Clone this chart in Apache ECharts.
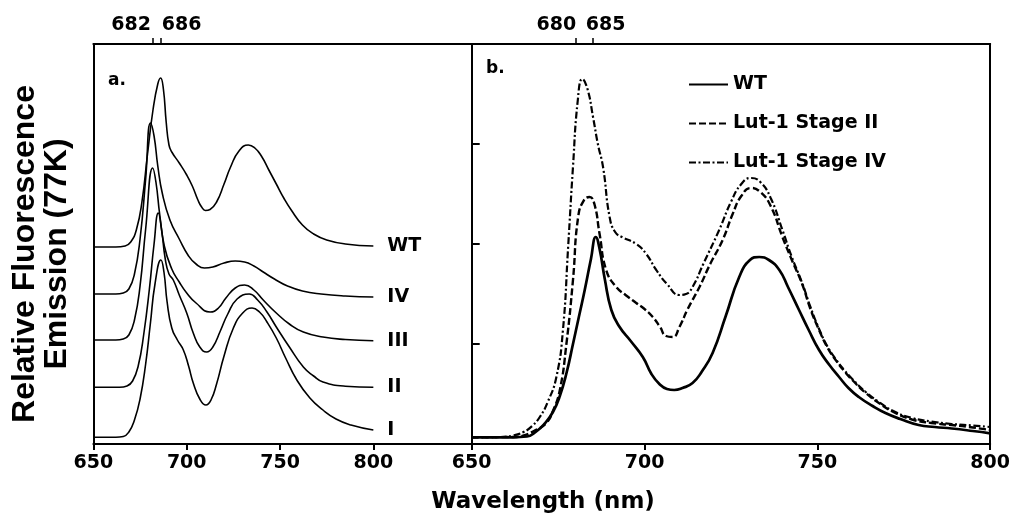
<!DOCTYPE html>
<html><head><meta charset="utf-8">
<script src="https://cdn.jsdelivr.net/npm/echarts@6/dist/echarts.min.js"></script>
<style>html,body{margin:0;padding:0;background:#fff}#c{width:1013px;height:517px}</style>
</head><body><div id="c"></div>
<script>
// ---- tick labels / categories ----
const bottomTicks = [650, 700, 750, 800];
const topTicksA = [682, 686];
const topTicksB = [680, 685];
const labelsA = ['WT', 'IV', 'III', 'II', 'I'];
const namesB = ['WT', 'Lut-1 Stage II', 'Lut-1 Stage IV'];

// ---- panel a (stacked, offset spectra) [wavelength nm, relative units] ----
const aWT = [[650,1.97],[662,1.97],[667,1.98],[670,2.02],[673,2.14],[676,2.42],[679,2.9],[682,3.35],[684.5,3.6],[686,3.66],[687.5,3.55],[689,3.22],[690.5,2.99],[692,2.92],[696,2.81],[700,2.69],[703,2.58],[706,2.44],[708,2.37],[710,2.335],[712.5,2.345],[716,2.42],[720,2.6],[723.5,2.77],[728,2.93],[733,2.99],[736.5,2.96],[740,2.88],[744,2.74],[748,2.6],[752,2.46],[756,2.34],[762,2.19],[768,2.1],[775,2.04],[785,2.0],[800,1.98]];
const aIV = [[650,1.5],[662,1.5],[666,1.51],[669,1.55],[672,1.7],[675,2.05],[678,2.65],[680.6,3.21],[682.5,3.08],[684.5,2.78],[687,2.5],[691,2.24],[696,2.05],[701,1.88],[705,1.8],[709.5,1.76],[714,1.77],[720,1.81],[726,1.83],[731,1.82],[736,1.78],[741,1.72],[747,1.65],[754,1.58],[762,1.53],[772,1.5],[785,1.48],[800,1.47]];
const aIII = [[650,1.04],[662,1.04],[666,1.05],[669,1.09],[672,1.24],[675,1.58],[678,2.15],[681.8,2.76],[683.5,2.62],[685.5,2.3],[688,1.98],[692,1.75],[696,1.62],[700,1.51],[705,1.41],[712.5,1.32],[717,1.36],[721,1.46],[726,1.56],[731,1.59],[736,1.54],[741,1.44],[748,1.31],[755,1.2],[762.5,1.12],[773,1.07],[785,1.045],[800,1.033]];
const aII = [[650,0.567],[664,0.567],[668,0.58],[671,0.63],[674,0.78],[677,1.1],[680,1.55],[682.5,2.0],[684.8,2.31],[686.5,2.15],[688.5,1.85],[690.5,1.7],[692.8,1.64],[696,1.49],[700,1.31],[703.5,1.11],[707,0.97],[710.7,0.92],[714,0.97],[718,1.13],[722,1.3],[727,1.45],[733.5,1.5],[738,1.44],[743,1.32],[748,1.17],[755,0.97],[762.5,0.77],[768,0.68],[773,0.62],[785,0.578],[800,0.567]];
const aI = [[650,0.067],[662,0.067],[666,0.075],[669,0.12],[672,0.24],[675,0.45],[678,0.8],[680.5,1.2],[683,1.6],[686.2,1.84],[687.8,1.72],[689.5,1.42],[692,1.16],[695,1.04],[698.2,0.94],[701,0.78],[703.5,0.61],[707,0.45],[710.3,0.39],[713,0.44],[716,0.6],[720,0.88],[725,1.16],[730,1.31],[735,1.36],[739,1.32],[743,1.22],[748,1.06],[753,0.86],[759,0.64],[766,0.46],[773,0.34],[780,0.25],[788,0.19],[800,0.14]];

// ---- panel b [wavelength nm, relative units] ----
const bWT = [[650,0.067],[662,0.067],[666,0.075],[668.5,0.12],[671,0.2],[673.5,0.32],[675.5,0.48],[677.5,0.72],[679.3,1.0],[681,1.27],[682.7,1.54],[684.5,1.85],[685.9,2.07],[687,1.95],[688.5,1.65],[690.4,1.34],[692.8,1.17],[696,1.03],[699.5,0.87],[702,0.7],[704.3,0.6],[706.5,0.55],[708.6,0.54],[711,0.56],[713.9,0.61],[716.5,0.72],[719.7,0.91],[723.5,1.28],[727.4,1.67],[730.5,1.84],[733.2,1.87],[736,1.84],[739,1.74],[741.5,1.57],[744.7,1.34],[747.5,1.14],[750.5,0.94],[753.5,0.79],[756.3,0.67],[759,0.56],[762,0.47],[766,0.38],[769.7,0.31],[774,0.25],[779.3,0.19],[784,0.17],[788.9,0.155],[795,0.13],[800,0.107]];
const bII = [[650,0.067],[662,0.07],[665,0.085],[668,0.13],[671.6,0.21],[673.5,0.33],[675.5,0.54],[677.4,1.0],[679.3,1.64],[680.8,2.27],[682.5,2.44],[684.1,2.47],[685.5,2.4],[687,2.1],[688.9,1.74],[691.8,1.57],[694.5,1.49],[697.6,1.41],[700,1.35],[702.4,1.27],[704.5,1.17],[706.2,1.08],[708.2,1.07],[710.1,1.17],[712.5,1.35],[715.9,1.57],[719,1.8],[722.6,2.04],[725.5,2.3],[728,2.48],[730.8,2.56],[733.5,2.52],[736.5,2.38],[739.9,2.07],[742.5,1.85],[745.6,1.6],[748,1.35],[750.5,1.14],[753,0.96],[755.3,0.84],[758,0.72],[760.1,0.64],[764,0.51],[767.8,0.41],[772,0.32],[777.4,0.245],[783,0.21],[788.9,0.19],[795,0.165],[800,0.14]];
const bIV = [[650,0.067],[658,0.07],[662,0.085],[665,0.12],[667.5,0.18],[669.7,0.27],[672,0.42],[674.5,0.67],[676.4,1.14],[677.9,1.97],[679.3,2.77],[680.7,3.44],[682,3.65],[683.5,3.55],[685.1,3.27],[686.5,3.0],[688,2.77],[689.9,2.27],[691.5,2.12],[693.5,2.07],[697.6,2.0],[700.5,1.9],[703.4,1.74],[706.5,1.6],[710.1,1.49],[712,1.5],[713.9,1.57],[717,1.8],[721.6,2.14],[725,2.42],[728,2.6],[730.8,2.66],[733.5,2.62],[736.5,2.46],[739.9,2.14],[742.5,1.88],[745.6,1.61],[748,1.37],[750.5,1.15],[753,0.97],[755.3,0.85],[758,0.73],[760.1,0.65],[764,0.52],[767.8,0.42],[772,0.33],[777.4,0.26],[783,0.225],[788.9,0.2],[795,0.185],[800,0.17]];

const seriesA = [aWT, aIV, aIII, aII, aI];
const seriesB = [bWT, bII, bIV];

const FONT = 'DejaVu Sans';
const BLK = '#000';
const axLine = {show: true, onZero: false, lineStyle: {color: BLK, width: 2}};

function bottomAxis(gi, max) {
  return {
    type: 'value', gridIndex: gi, position: 'bottom', min: 650, max: max,
    axisLine: axLine,
    axisTick: {show: true, customValues: bottomTicks, length: 6, lineStyle: {color: BLK, width: 2}},
    axisLabel: {show: true, customValues: bottomTicks, margin: 10, color: BLK, fontFamily: FONT, fontWeight: 'bold', fontSize: 19, showMinLabel: true, showMaxLabel: true},
    splitLine: {show: false}
  };
}
function topAxis(gi, max, ticks, padL, padR) {
  return {
    type: 'value', gridIndex: gi, position: 'top', min: 650, max: max,
    axisLine: axLine,
    axisTick: {show: true, customValues: ticks, length: 6, lineStyle: {color: BLK, width: 1.5}},
    axisLabel: {
      show: true, customValues: ticks, margin: 9,
      formatter: function (v) { return (v === ticks[0] ? '{l|' : '{r|') + v + '}'; },
      rich: {
        l: {padding: [0, padL, 0, 0], color: BLK, fontFamily: FONT, fontWeight: 'bold', fontSize: 19},
        r: {padding: [0, 0, 0, padR], color: BLK, fontFamily: FONT, fontWeight: 'bold', fontSize: 19}
      }
    },
    splitLine: {show: false}
  };
}

const chart = echarts.init(document.getElementById('c'), null, {renderer: 'canvas'});

const series = [];
seriesA.forEach(function (d, i) {
  series.push({
    type: 'line', name: 'a-' + labelsA[i], xAxisIndex: 0, yAxisIndex: 0, data: d,
    smooth: 0.5, symbol: 'none', silent: true,
    lineStyle: {color: BLK, width: 1.6},
    endLabel: {show: true, formatter: labelsA[i], distance: 14, color: BLK, fontFamily: FONT, fontWeight: 'bold', fontSize: 19}
  });
});
const styleB = [
  {color: BLK, width: 2.7, type: 'solid'},
  {color: BLK, width: 2.4, type: [7, 3]},
  {color: BLK, width: 2.2, type: [7, 2.5, 2, 2.5]}
];
seriesB.forEach(function (d, i) {
  series.push({
    type: 'line', name: namesB[i], xAxisIndex: 2, yAxisIndex: 2, data: d,
    smooth: 0.5, symbol: 'none', silent: true,
    lineStyle: styleB[i], itemStyle: {color: BLK}
  });
});

chart.setOption({
  animation: false,
  backgroundColor: '#fff',
  grid: [
    {left: 93.4, top: 44, width: 378.3, height: 400},
    {left: 471.7, top: 44, width: 520, height: 400}
  ],
  xAxis: [
    bottomAxis(0, 852.7),
    topAxis(0, 852.7, topTicksA, 44, 42),
    bottomAxis(1, 800),
    topAxis(1, 800, topTicksB, 38, 26)
  ],
  yAxis: [
    {type: 'value', gridIndex: 0, min: 0, max: 4, position: 'left', axisLine: axLine, axisTick: {show: false}, axisLabel: {show: false}, splitLine: {show: false}},
    {type: 'value', gridIndex: 0, min: 0, max: 4, position: 'right', axisLine: {show: false}, axisTick: {show: false}, axisLabel: {show: false}, splitLine: {show: false}},
    {type: 'value', gridIndex: 1, min: 0, max: 4, interval: 1, position: 'left', axisLine: axLine, axisTick: {show: true, inside: true, length: 8, lineStyle: {color: BLK, width: 2}}, axisLabel: {show: false}, splitLine: {show: false}},
    {type: 'value', gridIndex: 1, min: 0, max: 4, position: 'right', axisLine: axLine, axisTick: {show: false}, axisLabel: {show: false}, splitLine: {show: false}}
  ],
  legend: {
    data: namesB, orient: 'vertical', left: 683, top: 70,
    itemWidth: 39, itemHeight: 14, itemGap: 20,
    itemStyle: {color: 'rgba(0,0,0,0)', borderColor: 'rgba(0,0,0,0)', borderWidth: 0, opacity: 0},
    textStyle: {color: BLK, fontFamily: FONT, fontWeight: 'bold', fontSize: 19, padding: [0, 0, 0, 0]},
    selectedMode: false
  },
  graphic: [
    {type: 'text', left: 108, top: 72, style: {text: 'a.', fill: BLK, font: 'bold 17px "DejaVu Sans"'}},
    {type: 'text', left: 486, top: 60, style: {text: 'b.', fill: BLK, font: 'bold 17px "DejaVu Sans"'}},
    {type: 'text', x: 41, y: 254, rotation: Math.PI / 2,
      style: {text: 'Relative Fluorescence\nEmission (77K)', fill: BLK, font: 'bold 32px "Liberation Sans"', align: 'center', verticalAlign: 'middle', lineHeight: 32}},
    {type: 'text', x: 543, y: 502,
      style: {text: 'Wavelength (nm)', fill: BLK, font: 'bold 23px "DejaVu Sans"', align: 'center', verticalAlign: 'middle'}}
  ],
  series: series
});
</script>
</body></html>
